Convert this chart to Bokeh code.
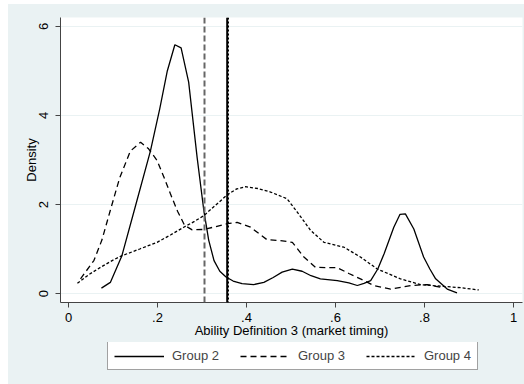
from bokeh.plotting import figure
from bokeh.layouts import column
from bokeh.models import Range1d, FixedTicker, Span, Legend, LegendItem
from bokeh.embed import file_html
from bokeh.resources import INLINE

# ---- data ----
x_ticks = [0, 0.2, 0.4, 0.6, 0.8, 1.0]
x_tick_labels = ["0", ".2", ".4", ".6", ".8", "1"]
y_ticks = [0, 2, 4, 6]
y_tick_labels = ["0", "2", "4", "6"]

g2_x = [0.074, 0.094, 0.12, 0.15, 0.184, 0.205, 0.222, 0.239, 0.253, 0.27, 0.289, 0.304,
        0.315, 0.327, 0.34, 0.354, 0.37, 0.39, 0.416, 0.439, 0.46, 0.48, 0.503, 0.525,
        0.545, 0.566, 0.604, 0.63, 0.649, 0.664, 0.679, 0.695, 0.709, 0.731, 0.745, 0.757,
        0.776, 0.798, 0.812, 0.825, 0.851, 0.873]
g2_y = [0.12, 0.25, 0.85, 1.95, 3.2, 4.15, 5.0, 5.59, 5.52, 4.75, 3.06, 1.87,
        1.2, 0.74, 0.5, 0.37, 0.28, 0.22, 0.2, 0.25, 0.36, 0.48, 0.55, 0.5,
        0.4, 0.33, 0.29, 0.24, 0.18, 0.23, 0.29, 0.55, 0.89, 1.49, 1.78, 1.79,
        1.45, 0.82, 0.55, 0.33, 0.1, 0.015]

g3_x = [0.027, 0.057, 0.075, 0.094, 0.115, 0.139, 0.162, 0.18, 0.199, 0.215, 0.229, 0.245,
        0.261, 0.278, 0.304, 0.33, 0.357, 0.379, 0.409, 0.446, 0.476, 0.503, 0.529, 0.555,
        0.58, 0.604, 0.63, 0.656, 0.686, 0.724, 0.769, 0.806, 0.836]
g3_y = [0.33, 0.74, 1.2, 1.87, 2.6, 3.2, 3.4, 3.25, 2.99, 2.6, 2.24, 1.85,
        1.53, 1.43, 1.44, 1.5, 1.57, 1.6, 1.49, 1.21, 1.19, 1.15, 0.82, 0.59,
        0.58, 0.58, 0.45, 0.33, 0.18, 0.1, 0.18, 0.2, 0.14]

g4_x = [0.02, 0.045, 0.072, 0.1, 0.12, 0.16, 0.199, 0.23, 0.259, 0.283, 0.304, 0.33,
        0.357, 0.378, 0.398, 0.425, 0.454, 0.491, 0.514, 0.544, 0.574, 0.619, 0.656,
        0.694, 0.746, 0.791, 0.843, 0.881, 0.922]
g4_y = [0.23, 0.42, 0.59, 0.75, 0.85, 1.0, 1.15, 1.32, 1.49, 1.62, 1.75, 1.98,
        2.22, 2.35, 2.4, 2.36, 2.28, 2.13, 1.83, 1.42, 1.15, 1.04, 0.82,
        0.55, 0.33, 0.2, 0.16, 0.13, 0.08]

vline_x = [0.3056, 0.3566, 0.359]
series_labels = ["Group 2", "Group 3", "Group 4"]
x_label = "Ability Definition 3 (market timing)"
y_label = "Density"

FONT = "Liberation Sans"
BG = "#EAF2F3"
series = [(g2_x, g2_y, None), (g3_x, g3_y, "6 4"), (g4_x, g4_y, "3 2")]

p = figure(width=516, height=338, output_backend="svg", toolbar_location=None,
           x_range=Range1d(-0.018, 1.0202), y_range=Range1d(-0.202, 6.202),
           min_border_left=52, min_border_right=2, min_border_top=13, min_border_bottom=40)
p.background_fill_color = "white"
p.border_fill_color = BG
p.outline_line_color = None

# grids
p.xgrid.visible = False
p.ygrid.ticker = FixedTicker(ticks=y_ticks)
p.ygrid.grid_line_color = BG
p.ygrid.grid_line_width = 1.2

# axes
for ax in (p.xaxis[0], p.yaxis[0]):
    ax.axis_line_color = "#444444"
    ax.major_tick_line_color = "#444444"
    ax.major_tick_out = 5
    ax.major_tick_in = 0
    ax.minor_tick_line_color = None
    ax.major_label_text_font = FONT
    ax.major_label_text_font_size = "13px"
    ax.major_label_text_color = "black"
    ax.axis_label_text_font = FONT
    ax.axis_label_text_font_size = "13px"
    ax.axis_label_text_font_style = "normal"
    ax.axis_label_text_color = "black"

p.xaxis.ticker = FixedTicker(ticks=x_ticks)
p.xaxis.major_label_overrides = {t: l for t, l in zip(x_ticks, x_tick_labels)}
p.xaxis.axis_label = x_label
p.xaxis.major_label_standoff = 5
p.xaxis.axis_label_standoff = -2

p.yaxis.ticker = FixedTicker(ticks=y_ticks)
p.yaxis.major_label_overrides = {t: l for t, l in zip(y_ticks, y_tick_labels)}
p.yaxis.major_label_orientation = "vertical"
p.yaxis.axis_label = y_label
p.yaxis.major_label_standoff = 7
p.yaxis.axis_label_standoff = -2

# vertical lines
p.add_layout(Span(location=vline_x[0], dimension="height", line_color="#666666",
                  line_width=2, line_dash="6 3"))
p.add_layout(Span(location=vline_x[1], dimension="height", line_color="black",
                  line_width=2))
p.add_layout(Span(location=vline_x[2], dimension="height", line_color="black",
                  line_width=1.5, line_dash="2 2"))

for xs, ys, dash in series:
    kw = {} if dash is None else {"line_dash": dash}
    p.line(xs, ys, line_color="black", line_width=1.3, **kw)

# legend strip (separate figure, lines kept out of its visible range)
pl = figure(width=516, height=42, output_backend="svg", toolbar_location=None,
            x_range=Range1d(10, 11), y_range=Range1d(10, 11),
            x_axis_location=None, y_axis_location=None,
            min_border_left=0, min_border_right=0, min_border_top=0, min_border_bottom=0)
pl.grid.visible = False
pl.background_fill_color = BG
pl.border_fill_color = BG
pl.outline_line_color = None

items = []
for (xs, ys, dash), lab in zip(series, series_labels):
    kw = {} if dash is None else {"line_dash": dash}
    r = pl.line(xs, ys, line_color="black", line_width=1.3, **kw)
    items.append(LegendItem(label=lab, renderers=[r]))

legend = Legend(items=items, orientation="horizontal", location=(47, 14),
                padding=6, spacing=21, glyph_width=50, glyph_height=12,
                label_height=12, label_standoff=8, margin=0,
                label_text_font=FONT, label_text_font_size="13px",
                border_line_color="#444444", border_line_width=1,
                background_fill_color="white", background_fill_alpha=1.0)
pl.add_layout(legend)

layout = column(p, pl, spacing=0, margin=(4, 0, 0, 8),
                styles={"background-color": BG})

open("out.html", "w").write(file_html(layout, INLINE))
